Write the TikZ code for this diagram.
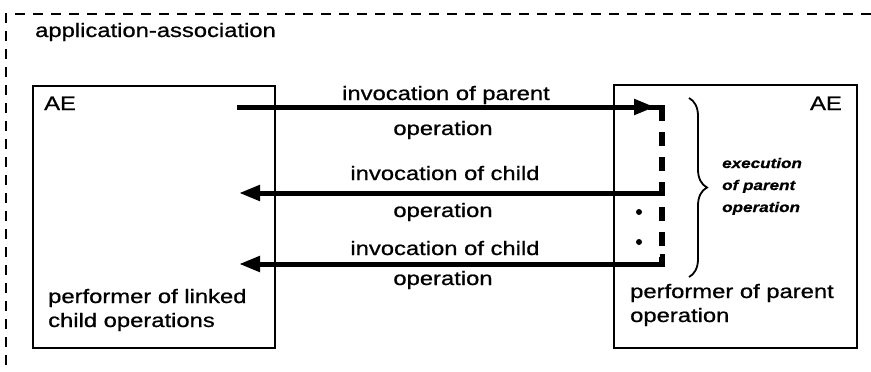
\documentclass[tikz,border=0pt]{standalone}
\usepackage{fontspec}
\setmainfont[FakeStretch=1.22,FakeBold=0.8]{Liberation Sans}
\usetikzlibrary{arrows.meta,decorations.pathreplacing}
\begin{document}
\begin{tikzpicture}[x=1pt,y=-1pt,
  lbl/.style={font=\fontsize{19.5}{22}\selectfont, inner sep=0pt},
  small/.style={font=\fontsize{14}{16}\selectfont\bfseries\itshape, inner sep=0pt},
  box/.style={draw, line width=2pt, inner sep=0pt, outer sep=0pt, anchor=north west},
  msg/.style={line width=5pt, line join=miter, -{Triangle[length=21pt,width=15pt]}},
  stub/.style={line width=5pt, line join=miter},
  execline/.style={line width=5.5pt, dash pattern=on 14pt off 11pt},
  frame/.style={line width=2pt, dash pattern=on 10pt off 8pt},
  dot/.style={circle, fill, inner sep=0pt, minimum size=6pt},
]
\useasboundingbox (0,0) rectangle (871,372);

% outer dashed frame (top and left only)
\coordinate (fR) at (871,14);
\coordinate (fC) at (6,14);
\coordinate (fB) at (6,372);
\draw[frame] (fR) -- (fC) -- (fB);
\node[lbl, anchor=base west] (aa) at (35,37) {application-association};

% boxes
\node[box, minimum width=242pt, minimum height=262pt] (L) at (33,86) {};
\node[box, minimum width=243pt, minimum height=263pt] (R) at (614,85) {};

\node[lbl, anchor=base west] (aeL) at (44,110) {AE};
\node[lbl, anchor=base east] (aeR) at (842,110) {AE};

\node[lbl, anchor=base west] (pl1) at (48,303) {performer of linked};
\node[lbl, anchor=base west] (pl2) at (48,327) {child operations};
\node[lbl, anchor=base west] (pr1) at (630,298) {performer of parent};
\node[lbl, anchor=base west] (pr2) at (630,322) {operation};

% execution line
\coordinate (vtop) at (662,107);
\coordinate (v2u) at (662,183);
\coordinate (v2) at (662,193);
\coordinate (v3u) at (662,254);
\coordinate (v3) at (662,264);
\draw[execline] (vtop) -- (v3);

% arrows
\coordinate (a1s) at (237,107);
\coordinate (a1e) at (655,107);
\coordinate (a1k) at (648,107);
\coordinate (vtopd) at (662,120);
\draw[msg] (a1s) -- (a1e);
\draw[stub] (a1k) -- (vtop) -- (vtopd);

\coordinate (t2) at (239,193);
\coordinate (t3) at (239,264);
\draw[msg] (v2u) -- (v2) -- (t2);
\draw[msg] (v3u) -- (v3) -- (t3);

% arrow labels
\node[lbl, anchor=base] (m1a) at (446,100) {invocation of parent};
\node[lbl, anchor=base] (m1b) at (443,135) {operation};
\node[lbl, anchor=base] (m2a) at (445,180) {invocation of child};
\node[lbl, anchor=base] (m2b) at (443,217) {operation};
\node[lbl, anchor=base] (m3a) at (445,255) {invocation of child};
\node[lbl, anchor=base] (m3b) at (443,285) {operation};

% dots
\node[dot] (d1) at (639,212) {};
\node[dot] (d2) at (639,242) {};

% brace
\coordinate (br1) at (689,98);
\coordinate (br2) at (689,277);
\draw[line width=1.8pt, decorate, decoration={brace, amplitude=18pt}] (br1) -- (br2);

\node[small, anchor=base west] (e1) at (722,168) {execution};
\node[small, anchor=base west] (e2) at (722,190) {of parent};
\node[small, anchor=base west] (e3) at (722,212) {operation};
\end{tikzpicture}
\end{document}
